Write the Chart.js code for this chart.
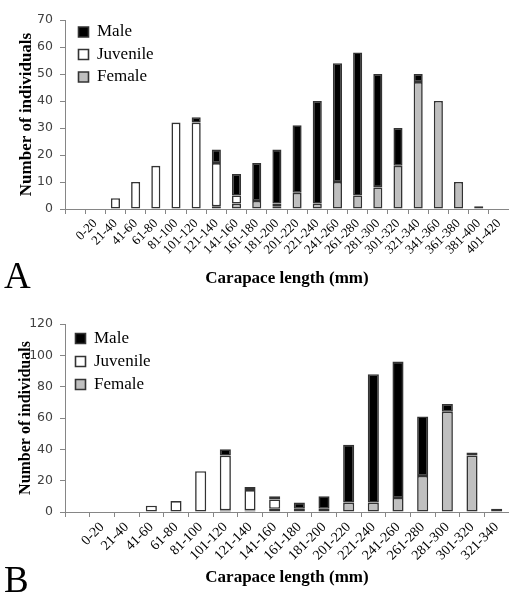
<!DOCTYPE html>
<html><head><meta charset="utf-8">
<script src="https://cdn.jsdelivr.net/npm/chart.js@4.4.1/dist/chart.umd.min.js"></script>
<style>
html,body{margin:0;padding:0;background:#fff;}
#wa{position:absolute;left:0;top:0;width:509px;height:300px;}
#wb{position:absolute;left:0;top:300px;width:509px;height:297px;}
</style></head><body>
<div id="wa"><canvas id="ca" width="509" height="300"></canvas></div>
<div id="wb"><canvas id="cb" width="509" height="297"></canvas></div>
<script>
// Panel A data
const categoriesA = ['0-20','21-40','41-60','61-80','81-100','101-120','121-140','141-160','161-180','181-200','201-220','221-240','241-260','261-280','281-300','301-320','321-340','341-360','361-380','381-400','401-420'];
const femaleA   = [0,0,0,0,0,0,1,2,3,1,6,2,10,5,8,16,47,40,10,1,0];
const juvenileA = [0,4,10,16,32,32,16,3,0,1,0,0,0,0,0,0,0,0,0,0,0];
const maleA     = [0,0,0,0,0,2,5,8,14,20,25,38,44,53,42,14,3,0,0,0,0];
const yTicksA   = [0,10,20,30,40,50,60,70];

// Panel B data
const categoriesB = ['0-20','21-40','41-60','61-80','81-100','101-120','121-140','141-160','161-180','181-200','201-220','221-240','241-260','261-280','281-300','301-320','321-340'];
const femaleB   = [0,0,0,0,0,1,1,2,0,2,6,6,9,23,64,36,2];
const juvenileB = [0,0,4,7,26,35,13,6,2,0,0,0,0,0,0,0,0];
const maleB     = [0,0,0,0,0,4,2,2,4,8,37,82,87,38,5,2,0];
const yTicksB   = [0,20,40,60,80,100,120];

const seriesNames = ['Female','Juvenile','Male'];
const xTitle = 'Carapace length (mm)';
const yTitle = 'Number of individuals';

const nz = a => [null, ...a.map(v => v === 0 ? null : v)];

function makeChart(canvasId, p) {
  const H = document.getElementById(canvasId).height;
  const fills = ['#bfbfbf', '#ffffff', '#000000'];
  const data = [p.female, p.juvenile, p.male];
  const letterPlugin = {
    id: 'panelLetter',
    afterLayout(chart) {
      const lg = chart.legend;
      if (lg) {
        lg.left += p.legDx; lg.right += p.legDx;
        lg.top = chart.chartArea.top + p.legDy; lg.bottom = lg.top + lg.height;
      }
    },
    afterDraw(chart) {
      const ctx = chart.ctx;
      ctx.save();
      ctx.font = '37px "Liberation Serif"';
      ctx.fillStyle = '#000';
      ctx.textBaseline = 'alphabetic';
      ctx.fillText(p.letter, 4, p.letterY);
      ctx.restore();
    }
  };
  return new Chart(document.getElementById(canvasId), {
    type: 'bar',
    data: {
      labels: ['', ...p.categories],
      datasets: data.map((d, i) => ({
        label: seriesNames[i],
        data: nz(d),
        backgroundColor: fills[i],
        borderColor: '#333333',
        borderWidth: 1.6,
        borderSkipped: false,
        barPercentage: 0.45,
        categoryPercentage: 1.0
      }))
    },
    options: {
      responsive: false,
      animation: false,
      devicePixelRatio: 1,
      layout: { padding: { top: p.top, left: 0, right: 0, bottom: 0 } },
      plugins: {
        tooltip: { enabled: false },
        legend: {
          position: 'chartArea',
          align: 'start',
          reverse: true,
          labels: {
            boxWidth: 10, boxHeight: 10, padding: p.legPad,
            color: '#000',
            font: { family: 'Liberation Serif', size: 17 }
          }
        }
      },
      scales: {
        x: {
          stacked: true,
          grid: { display: true, drawOnChartArea: false, drawTicks: true, tickLength: 5, color: '#868686', offset: true },
          border: { color: '#868686', width: 1 },
          ticks: { autoSkip: false, minRotation: 45, maxRotation: 45, color: '#000', padding: 2,
                   font: { family: 'Liberation Serif', size: p.xFont } },
          title: { display: true, text: xTitle, color: '#000',
                   font: { family: 'Liberation Serif', size: 17, weight: 'bold', lineHeight: 1 },
                   padding: { top: 0, bottom: p.xTitlePad } },
          afterFit: s => { s.height = H - p.bottom; s.paddingLeft = 0; s.paddingRight = 0; }
        },
        y: {
          stacked: true,
          min: 0, max: p.yTicks[p.yTicks.length - 1],
          afterBuildTicks: s => { s.ticks = p.yTicks.map(v => ({ value: v })); },
          grid: { display: true, drawOnChartArea: false, drawTicks: true, tickLength: 5, color: '#868686' },
          border: { color: '#868686', width: 1 },
          ticks: { color: '#404040', padding: 7, font: { family: 'DejaVu Sans', size: 12.5 } },
          title: { display: true, text: yTitle, color: '#000',
                   font: { family: 'Liberation Serif', size: p.yTitleSize, weight: 'bold', lineHeight: 1 },
                   padding: { top: p.yTitlePad, bottom: 0 } },
          afterFit: s => { s.width = 65; s.paddingTop = 0; s.paddingBottom = 0; }
        }
      }
    },
    plugins: [letterPlugin]
  });
}

makeChart('ca', {
  categories: categoriesA, female: femaleA, juvenile: juvenileA, male: maleA, yTicks: yTicksA,
  top: 20, bottom: 209, xFont: 13, xTitlePad: 13, yTitlePad: 18.5, yTitleSize: 17,
  legPad: 5.5, legDx: 8, legDy: -2, letter: 'A', letterY: 288
});
makeChart('cb', {
  categories: categoriesB, female: femaleB, juvenile: juvenileB, male: maleB, yTicks: yTicksB,
  top: 24, bottom: 212, xFont: 14, xTitlePad: 10.5, yTitlePad: 17.5, yTitleSize: 16,
  legPad: 6, legDx: 4.5, legDy: 0, letter: 'B', letterY: 292
});
</script>
</body></html>
